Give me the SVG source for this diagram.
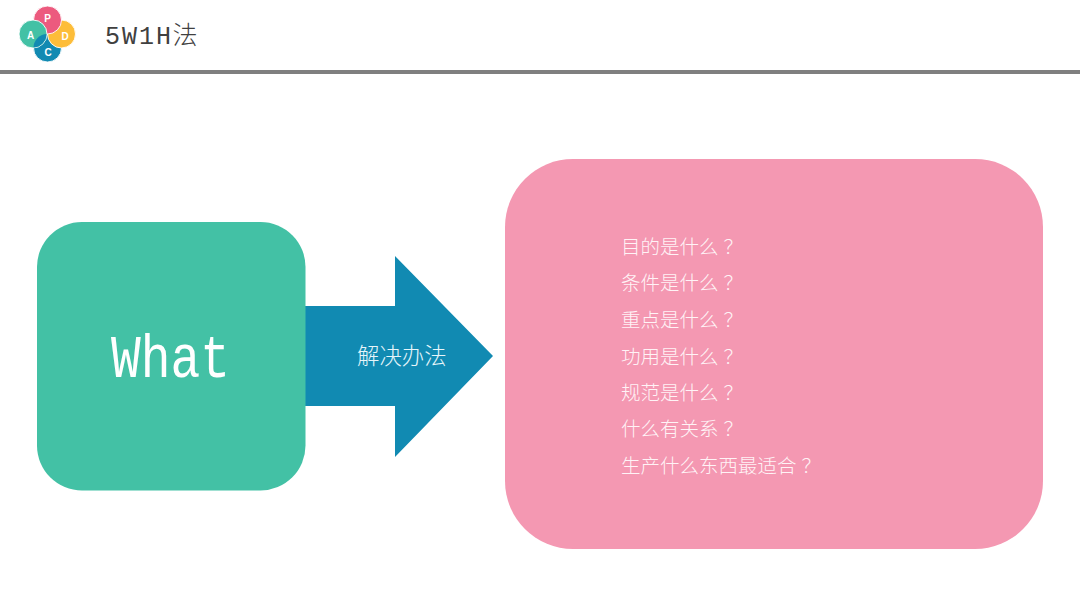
<svg xmlns="http://www.w3.org/2000/svg" width="1080" height="608" viewBox="0 0 1080 608">
<defs>
<clipPath id="clipA"><circle cx="33" cy="34" r="13.500"/></clipPath>
</defs>
<style>
text{font-family:"Liberation Mono","Noto Sans CJK SC",monospace}
.cjk{font-family:"Noto Sans CJK SC",sans-serif;font-weight:300}
.q{font-size:19.5px;fill:#fff3f6}
.l{font-family:"Liberation Sans",sans-serif;font-weight:700;font-size:10px;fill:#fff;text-anchor:middle}
.ring{stroke:#fff;stroke-width:.9}
</style>
<rect width="1080" height="608" fill="#fff"/>
<rect id="rule" x="0" y="70" width="1080" height="4" fill="#7f7f7f"/>
<g id="logo">
<circle class="ring" cx="47.500" cy="48" r="14" fill="#118ab2"/>
<circle class="ring" cx="61.500" cy="34" r="14" fill="#fdbd39"/>
<circle class="ring" cx="47.500" cy="20" r="14" fill="#ec5a7e"/>
<circle class="ring" cx="33" cy="34" r="14" fill="#43c1a5"/>
<circle cx="47.500" cy="48" r="14" fill="#118ab2" clip-path="url(#clipA)"/>
<text class="l" x="47.500" y="21.500">P</text>
<text class="l" x="65" y="39.500">D</text>
<text class="l" x="30.500" y="38.500">A</text>
<text class="l" x="48" y="55.500">C</text>
</g>
<g id="title"><text x="105" y="44" font-size="25" fill="#404040" textLength="66" lengthAdjust="spacing">5W1H</text><text class="cjk" x="172.500" y="44" font-size="25" fill="#404040">法</text></g>
<g id="connectors">
<g id="arrow"><polygon points="305,306 395,306 395,256 493,356 395,457 395,406 305,406" fill="#118ab2"/>
<text class="cjk" x="357" y="364" font-size="22.400" fill="#e6f5fa">解决办法</text></g>
</g>
<g id="what"><rect x="37" y="222" width="268.500" height="268.500" rx="45" fill="#43c1a5"/>
<text x="111" y="377" font-size="62" fill="#fff" textLength="119" lengthAdjust="spacingAndGlyphs">What</text></g>
<g id="questions"><rect x="505" y="159" width="538" height="390" rx="68" fill="#f498b2"/>
<text class="cjk q" x="621" y="254">目的是什么<tspan dx="5">？</tspan></text>
<text class="cjk q" x="621" y="290">条件是什么<tspan dx="5">？</tspan></text>
<text class="cjk q" x="621" y="327">重点是什么<tspan dx="5">？</tspan></text>
<text class="cjk q" x="621" y="364">功用是什么<tspan dx="5">？</tspan></text>
<text class="cjk q" x="621" y="400">规范是什么<tspan dx="5">？</tspan></text>
<text class="cjk q" x="621" y="436">什么有关系<tspan dx="5">？</tspan></text>
<text class="cjk q" x="621" y="473">生产什么东西最适合<tspan dx="5">？</tspan></text>
</g>
</svg>
